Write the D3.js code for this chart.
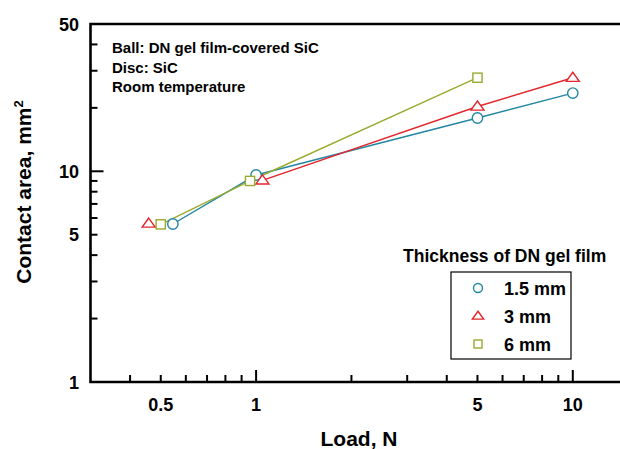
<!DOCTYPE html>
<html><head><meta charset="utf-8">
<script src="https://cdn.jsdelivr.net/npm/d3@7/dist/d3.min.js"></script>
<style>
html,body{margin:0;padding:0;background:#fff;}
svg{display:block;font-family:"Liberation Sans",Arial,sans-serif;font-weight:bold;}
</style></head>
<body>
<svg id="chart" width="620" height="449"></svg>
<script>
// ---- data ----
const seriesNames = ["1.5 mm", "3 mm", "6 mm"];
const loads15 = [0.546, 1.0, 5, 10];
const area15 = [5.62, 9.6, 17.9, 23.5];
const loads3 = [0.458, 1.047, 5, 10];
const area3 = [5.65, 9.06, 20.3, 27.8];
const loads6 = [0.5, 0.957, 5];
const area6 = [5.6, 9.0, 27.8];
const lineStartIndex = [0, 1, 0]; // first point of each series joined by the line
const xTickLabels = [0.5, 1, 5, 10];
const yTickLabels = [1, 5, 10, 50];
const annotation = ["Ball: DN gel film-covered SiC", "Disc: SiC", "Room temperature"];

const colors = ["#2387a1", "#e2262c", "#9aaa2e"];
const symbols = ["circle", "triangle", "square"];

(function () {
const svg = d3.select("#chart");
const x = d3.scaleLog().domain([0.3, 15]).range([90.5, 90.5 + Math.log10(50) * 316.7]);
const y = d3.scaleLog().domain([1, 50]).range([382, 24]);

const series = [
  {name: seriesNames[0], xs: loads15, ys: area15},
  {name: seriesNames[1], xs: loads3, ys: area3},
  {name: seriesNames[2], xs: loads6, ys: area6}
];

const pLeft = x.range()[0], pRight = 620, pTop = y.range()[1], pBottom = y.range()[0];
const xMajor = [1, 10];
const xMinor = [0.4, 0.5, 0.6, 0.7, 0.8, 0.9, 2, 3, 4, 5, 6, 7, 8, 9];
const yMajor = [1, 10];
const yMinor = [2, 3, 4, 5, 6, 7, 8, 9, 20, 30, 40];

const g = svg.append("g");
g.selectAll(".xmin").data(xMinor).enter().append("line")
  .attr("x1", d => x(d)).attr("x2", d => x(d)).attr("y1", pBottom).attr("y2", pBottom - 7)
  .attr("stroke", "#000").attr("stroke-width", 2);
g.selectAll(".xmaj").data(xMajor).enter().append("line")
  .attr("x1", d => x(d)).attr("x2", d => x(d)).attr("y1", pBottom).attr("y2", pBottom - 12)
  .attr("stroke", "#000").attr("stroke-width", 2);
g.selectAll(".ymin").data(yMinor).enter().append("line")
  .attr("x1", pLeft).attr("x2", pLeft + 7).attr("y1", d => y(d)).attr("y2", d => y(d))
  .attr("stroke", "#000").attr("stroke-width", 2);
g.selectAll(".ymaj").data(yMajor).enter().append("line")
  .attr("x1", pLeft).attr("x2", pLeft + 13).attr("y1", d => y(d)).attr("y2", d => y(d))
  .attr("stroke", "#000").attr("stroke-width", 2);

g.append("path")
  .attr("d", `M${pRight},${pTop}H${pLeft}V${pBottom}H${pRight}`)
  .attr("fill", "none").attr("stroke", "#000").attr("stroke-width", 2.6);

// tick labels
g.selectAll(".xl").data(xTickLabels).enter().append("text")
  .attr("x", d => x(d)).attr("y", 411).attr("text-anchor", "middle")
  .attr("font-size", 18).text(d => d);
g.selectAll(".yl").data(yTickLabels).enter().append("text")
  .attr("x", 79).attr("y", d => y(d) + 6.5).attr("text-anchor", "end")
  .attr("font-size", 18).text(d => d);

// axis titles
svg.append("text").attr("x", 359).attr("y", 446).attr("text-anchor", "middle")
  .attr("font-size", 21).text("Load, N");
const yt = svg.append("text").attr("transform", "translate(31,192) rotate(-90)")
  .attr("text-anchor", "middle").attr("font-size", 21);
yt.append("tspan").text("Contact area, mm");
yt.append("tspan").attr("font-size", 13).attr("dy", -8).text("2");

// annotation
svg.selectAll(".ann").data(annotation).enter().append("text")
  .attr("x", 112).attr("y", (d, i) => 53 + i * 19.6)
  .attr("font-size", 15).text(d => d);

// lines
const line = d3.line().x(d => x(d[0])).y(d => y(d[1]));
series.forEach((s, i) => {
  const pts = s.xs.map((v, j) => [v, s.ys[j]]).slice(lineStartIndex[i]);
  svg.append("path").datum(pts).attr("d", line)
    .attr("fill", "none").attr("stroke", colors[i]).attr("stroke-width", 1.4);
});

function drawMarker(sel, type, cx, cy, sz, color) {
  if (type === "circle") {
    sel.append("circle").attr("cx", cx).attr("cy", cy).attr("r", sz)
      .attr("fill", "#fff").attr("stroke", color).attr("stroke-width", 1.4);
  } else if (type === "triangle") {
    const h = sz * 1.75, w = sz * 1.25;
    sel.append("path")
      .attr("d", `M${cx},${cy - h * 0.6}L${cx + w},${cy + h * 0.4}L${cx - w},${cy + h * 0.4}Z`)
      .attr("fill", "#fff").attr("stroke", color).attr("stroke-width", 1.4);
  } else {
    sel.append("rect").attr("x", cx - sz).attr("y", cy - sz).attr("width", 2 * sz).attr("height", 2 * sz)
      .attr("fill", "#fff").attr("stroke", color).attr("stroke-width", 1.4);
  }
}
series.forEach((s, i) => {
  s.xs.forEach((v, j) => drawMarker(svg, symbols[i], x(v), y(s.ys[j]), i === 2 ? 4.6 : 5.2, colors[i]));
});

// legend
svg.append("text").attr("x", 403).attr("y", 262).attr("font-size", 17.5).text("Thickness of DN gel film");
svg.append("rect").attr("x", 451).attr("y", 272).attr("width", 120).attr("height", 87)
  .attr("fill", "#fff").attr("stroke", "#000").attr("stroke-width", 1.2);
const legY = [288, 316, 344];
series.forEach((s, i) => {
  drawMarker(svg, symbols[i], 478, legY[i], i === 2 ? 4 : 4.5, colors[i]);
  svg.append("text").attr("x", 504).attr("y", legY[i] + 7).attr("font-size", 18).text(s.name);
});
})();
</script>
</body></html>
